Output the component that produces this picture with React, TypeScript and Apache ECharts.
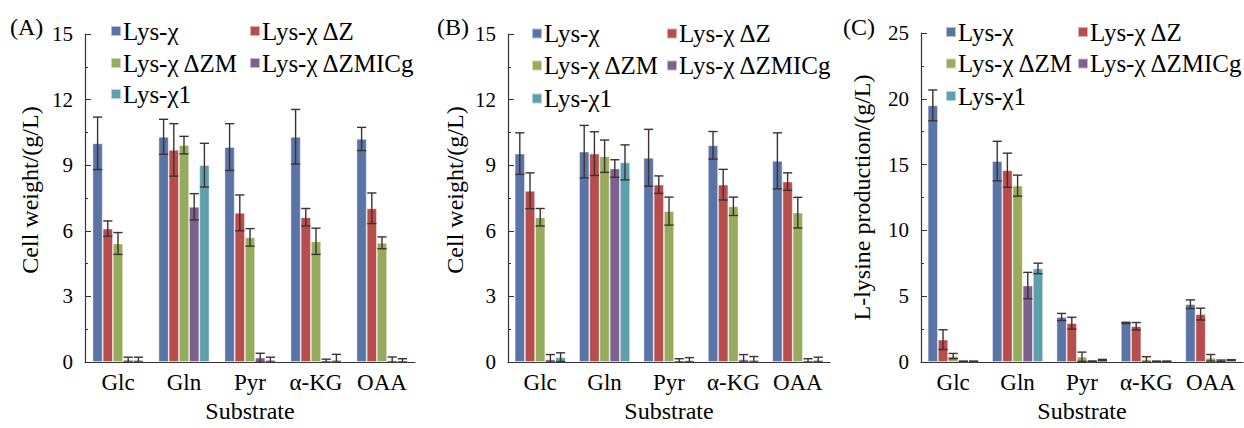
import React, { useEffect, useRef } from 'react';
import * as echarts from 'echarts';

const categories = ['Glc', 'Gln', 'Pyr', 'α-KG', 'OAA'];
const strains = ['Lys-χ', 'Lys-χ ΔZ', 'Lys-χ ΔZM', 'Lys-χ ΔZMICg', 'Lys-χ1'];
const colors = ['#5B74A6', '#B84D4D', '#96AC5D', '#7D5F90', '#5E9FAC'];

// Panel A: cell weight (g/L)
const aLysX = [10.0, 10.3, 9.83, 10.3, 10.2];
const aLysXErr = [1.2, 0.8, 1.07, 1.25, 0.53];
const aDZ = [6.1, 9.7, 6.82, 6.62, 7.03];
const aDZErr = [0.35, 1.2, 0.82, 0.4, 0.7];
const aDZM = [5.42, 9.92, 5.7, 5.52, 5.45];
const aDZMErr = [0.5, 0.4, 0.4, 0.6, 0.27];
const aDZMICg = [0.1, 7.1, 0.2, 0.03, 0.03];
const aDZMICgErr = [0.12, 0.6, 0.2, 0.1, 0.2];
const aX1 = [0.1, 9.0, 0.1, 0.1, 0.03];
const aX1Err = [0.12, 1.0, 0.12, 0.25, 0.12];

// Panel B: cell weight (g/L)
const bLysX = [9.53, 9.62, 9.34, 9.91, 9.2];
const bLysXErr = [0.95, 1.2, 1.3, 0.63, 1.28];
const bDZ = [7.83, 9.53, 8.11, 8.11, 8.25];
const bDZErr = [0.82, 1.0, 0.4, 0.7, 0.4];
const bDZM = [6.62, 9.41, 6.9, 7.12, 6.83];
const bDZMErr = [0.4, 0.74, 0.64, 0.42, 0.7];
const bDZMICg = [0.12, 8.85, 0.03, 0.12, 0.03];
const bDZMICgErr = [0.22, 0.4, 0.12, 0.22, 0.12];
const bX1 = [0.22, 9.13, 0.08, 0.1, 0.1];
const bX1Err = [0.2, 0.8, 0.12, 0.15, 0.12];

// Panel C: L-lysine production (g/L)
const cLysX = [19.5, 15.27, 3.42, 2.97, 4.39];
const cLysXErr = [1.17, 1.5, 0.27, 0.05, 0.33];
const cDZ = [1.7, 14.57, 2.95, 2.72, 3.64];
const cDZErr = [0.75, 1.3, 0.45, 0.28, 0.45];
const cDZM = [0.45, 13.4, 0.4, 0.2, 0.32];
const cDZMErr = [0.2, 0.8, 0.35, 0.2, 0.25];
const cDZMICg = [0.05, 5.81, 0.05, 0.05, 0.1];
const cDZMICgErr = [0.02, 1.0, 0.03, 0.02, 0.05];
const cX1 = [0.05, 7.11, 0.15, 0.05, 0.15];
const cX1Err = [0.02, 0.4, 0.05, 0.02, 0.03];

const panelA = { vals: [aLysX, aDZ, aDZM, aDZMICg, aX1], errs: [aLysXErr, aDZErr, aDZMErr, aDZMICgErr, aX1Err] };
const panelB = { vals: [bLysX, bDZ, bDZM, bDZMICg, bX1], errs: [bLysXErr, bDZErr, bDZMErr, bDZMICgErr, bX1Err] };
const panelC = { vals: [cLysX, cDZ, cDZM, cDZMICg, cX1], errs: [cLysXErr, cDZErr, cDZMErr, cDZMICgErr, cX1Err] };

const FONT = 'Liberation Serif';
const BAR_W = 10.2;

export default function App() {
  const ref = useRef<HTMLDivElement>(null);
  useEffect(() => {
    if (!ref.current) return;
    const chart = echarts.init(ref.current, undefined, { renderer: 'svg' });

    const panels = [panelA, panelB, panelC];
    const grids = [
      { left: 85, top: 34, width: 330, height: 333 },
      { left: 508, top: 34, width: 322, height: 334 },
      { left: 921, top: 33, width: 322, height: 334 },
    ];
    const yMax = [15, 15, 25];
    const yInt = [3, 3, 5];
    const yNames = ['Cell weight/(g/L)', 'Cell weight/(g/L)', 'L-lysine production/(g/L)'];
    const yNameGap = [43, 41, 47];
    const yNamePad = [[0, 0, 0, 16], [0, 0, 0, 16], [0, 0, 0, 0]];

    const xAxis = grids.map((_, i) => ({
      type: 'category',
      gridIndex: i,
      data: categories,
      name: 'Substrate',
      nameLocation: 'middle',
      nameGap: 37,
      nameTextStyle: { fontFamily: FONT, fontSize: 24, color: '#000' },
      axisLine: { lineStyle: { color: '#333', width: 1.2 } },
      axisTick: { inside: true, length: 5, lineStyle: { color: '#333' } },
      axisLabel: { fontFamily: FONT, fontSize: 23, color: '#000', margin: 9, interval: 0 },
    }));

    const yAxis = grids.map((_, i) => ({
      type: 'value',
      gridIndex: i,
      min: 0,
      max: yMax[i],
      interval: yInt[i],
      name: yNames[i],
      nameLocation: 'middle',
      nameGap: yNameGap[i],
      nameTextStyle: { fontFamily: FONT, fontSize: 24, color: '#000', padding: yNamePad[i] },
      axisLine: { show: true, lineStyle: { color: '#333', width: 1.2 } },
      axisTick: { show: true, inside: true, length: 6, lineStyle: { color: '#333' } },
      minorTick: { show: true, splitNumber: 2, length: 3, lineStyle: { color: '#333' } },
      splitLine: { show: false },
      axisLabel: { fontFamily: FONT, fontSize: 21, color: '#000', margin: 12 },
    }));

    const series: any[] = [];
    panels.forEach((p, pi) => {
      p.vals.forEach((vals, si) => {
        series.push({
          type: 'bar',
          name: strains[si],
          xAxisIndex: pi,
          yAxisIndex: pi,
          data: vals,
          barWidth: BAR_W,
          barGap: '0%',
          itemStyle: { color: colors[si], borderColor: 'rgba(255,255,255,0.55)', borderWidth: 0.8 },
        });
      });
      const errData: number[][] = [];
      p.vals.forEach((vals, si) => {
        vals.forEach((v, ci) => {
          errData.push([ci, v, p.errs[si][ci], si]);
        });
      });
      series.push({
        type: 'custom',
        name: 'err' + pi,
        xAxisIndex: pi,
        yAxisIndex: pi,
        z: 5,
        data: errData,
        encode: { x: 0, y: 1 },
        renderItem: (params: any, api: any) => {
          const ci = api.value(0);
          const v = api.value(1);
          const e = api.value(2);
          const si = api.value(3);
          const center = api.coord([ci, v]);
          const x = center[0] + (si - 2) * BAR_W;
          const lo = Math.max(0, v - e);
          const yTop = api.coord([ci, v + e])[1];
          const yBot = api.coord([ci, lo])[1];
          const half = BAR_W / 2 - 0.5;
          const style = { stroke: '#3e3131', lineWidth: 1.4, fill: 'none' };
          return {
            type: 'group',
            children: [
              { type: 'line', shape: { x1: x, y1: yTop, x2: x, y2: yBot }, style },
              { type: 'line', shape: { x1: x - half, y1: yTop, x2: x + half, y2: yTop }, style },
              { type: 'line', shape: { x1: x - half, y1: yBot, x2: x + half, y2: yBot }, style },
            ],
          };
        },
      });
    });

    const legendPos = [
      { cols: [110, 249], rows: [31, 63, 94] },
      { cols: [531, 666], rows: [33.5, 65.5, 98.5] },
      { cols: [945, 1077], rows: [32, 63.5, 96] },
    ];
    const legend: any[] = [];
    legendPos.forEach((lp) => {
      strains.forEach((s, si) => {
        const col = si % 2;
        const row = Math.floor(si / 2);
        legend.push({
          data: [s],
          left: lp.cols[col],
          top: lp.rows[row] - 12.5,
          padding: 0,
          icon: 'rect',
          itemWidth: 10,
          itemHeight: 10,
          selectedMode: false,
          textStyle: { fontFamily: FONT, fontSize: 25, color: '#000', padding: [0, 0, 0, -3] },
        });
      });
    });

    const panelLabels = [
      { text: '(A)', x: 10, y: 27 },
      { text: '(B)', x: 437, y: 27 },
      { text: '(C)', x: 843, y: 27 },
    ];

    chart.setOption({
      animation: false,
      backgroundColor: '#fff',
      grid: grids.map((g) => ({ ...g, containLabel: false })),
      xAxis,
      yAxis,
      legend,
      series,
      graphic: panelLabels.map((l) => ({
        type: 'text',
        left: l.x,
        top: l.y - 12,
        style: { text: l.text, fontFamily: FONT, fontSize: 24, fill: '#000' },
      })),
    });
    return () => chart.dispose();
  }, []);
  return (
    <div
      ref={ref}
      style={{ position: 'absolute', left: 0, top: 0, width: 1244, height: 428 }}
    />
  );
}
